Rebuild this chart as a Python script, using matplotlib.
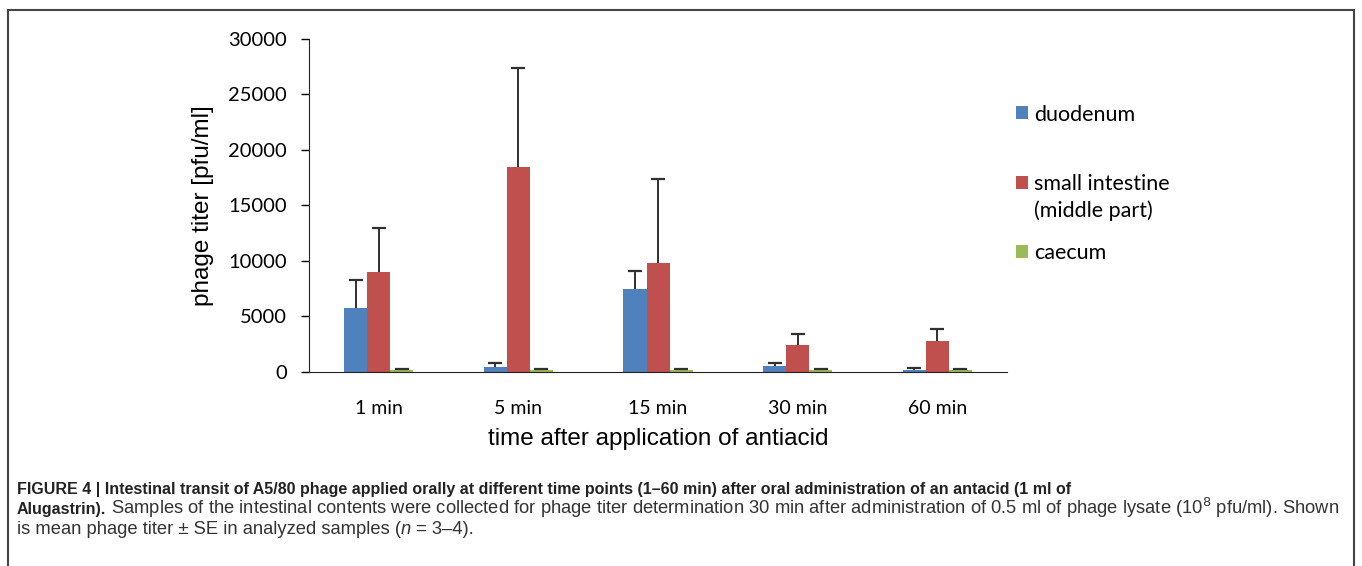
import numpy as np
import matplotlib
matplotlib.use("Agg")
import matplotlib.pyplot as plt
from matplotlib.patches import Rectangle

# values (mean phage titer, pfu/ml, and upper SE)
times = ["1 min", "5 min", "15 min", "30 min", "60 min"]
duodenum = [5800, 450, 7450, 500, 200]
duodenum_se = [2500, 400, 1650, 350, 150]
small_int = [9050, 18450, 9850, 2450, 2800]
small_int_se = [3900, 8950, 7500, 950, 1050]
caecum = [200, 150, 200, 150, 150]
caecum_se = [100, 80, 100, 80, 80]

series_names = ["duodenum", "small intestine", "caecum"]
colors = ["#4F81BD", "#C0504D", "#9BBB59"]

fig = plt.figure(figsize=(13.62, 5.66), dpi=100)
ax = fig.add_axes([0.2269, 0.3428, 0.5125, 0.5883])

x = np.arange(len(times))
w = 0.165
bars = []
for i, (vals, se) in enumerate([(duodenum, duodenum_se),
                                (small_int, small_int_se),
                                (caecum, caecum_se)]):
    xi = x + (i - 1) * w
    vals = np.array(vals)
    se = np.array(se)
    bars.append(ax.bar(xi, vals, width=w, color=colors[i],
                       label=series_names[i], zorder=2))
    # upper error bar only: stem + top cap
    ax.vlines(xi, vals, vals + se, color="#303030", linewidth=1.4, zorder=3)
    ax.plot(xi, vals + se, linestyle="none", marker="_", markersize=10,
            markeredgewidth=1.6, color="#303030", zorder=3)

ax.set_xlim(-0.5, len(times) - 0.5)
ax.set_ylim(0, 30000)
ax.set_yticks(np.arange(0, 30001, 5000))
ax.set_xticks(x)
ax.set_xticklabels(times, fontsize=14, family="Lato")
for lab in ax.get_yticklabels():
    lab.set_fontsize(14.5)
    lab.set_family("Lato")
ax.tick_params(axis="x", length=0, pad=20)
ax.tick_params(axis="y", length=6, width=1, pad=10)
for s in ["top", "right"]:
    ax.spines[s].set_visible(False)
ax.spines["left"].set_color("#222222")
ax.spines["bottom"].set_color("#222222")

ax.set_ylabel("phage titer [pfu/ml]", fontsize=17.5, family="Liberation Sans",
              labelpad=10)
ax.set_xlabel("time after application of antiacid", fontsize=17.5,
              family="Liberation Sans", labelpad=8)

# legend in pieces to mimic the uneven spacing of the original
leg_kw = dict(loc="upper left", frameon=False,
              prop={"family": "Lato", "size": 15.5}, handlelength=0.55,
              handleheight=0.55, handletextpad=0.3, borderpad=0,
              borderaxespad=0)
blank = Rectangle((0, 0), 1, 1, visible=False)
leg1 = ax.legend([bars[0]], [series_names[0]], bbox_to_anchor=(1.013, 0.803),
                 **leg_kw)
ax.add_artist(leg1)
leg2 = ax.legend([bars[1], blank], [series_names[1], "(middle part)"],
                 bbox_to_anchor=(1.013, 0.594), labelspacing=0.28, **leg_kw)
ax.add_artist(leg2)
ax.legend([bars[2]], [series_names[2]], bbox_to_anchor=(1.013, 0.386), **leg_kw)

# caption
cap_kw = dict(family="Liberation Sans", color="#333333", fontsize=13.2)
bold_kw = dict(family="Liberation Sans", color="#222222", fontsize=11.5,
               fontweight="bold")
fig.text(0.0125, 0.127, "FIGURE 4 | Intestinal transit of A5/80 phage applied orally at "
         "different time points (1\u201360 min) after oral administration of an antacid (1 ml of",
         **bold_kw)

fig.canvas.draw()
renderer = fig.canvas.get_renderer()


def after(t):
    # x position (figure fraction) right after text t
    return t.get_window_extent(renderer).x1 / fig.bbox.width


t1 = fig.text(0.0125, 0.092, "Alugastrin).", **bold_kw)
fig.text(after(t1), 0.092, " Samples of the intestinal contents were collected for "
         "phage titer determination 30 min after administration of 0.5 ml of phage "
         "lysate (10$^{8}$ pfu/ml). Shown", **cap_kw)
t2 = fig.text(0.0125, 0.057, "is mean phage titer \u00b1 SE in analyzed samples (",
              **cap_kw)
t3 = fig.text(after(t2), 0.057, "n", style="italic", **cap_kw)
fig.text(after(t3), 0.057, " = 3\u20134).", **cap_kw)

# outer frame
fig.add_artist(Rectangle((0.006, -0.01), 0.988, 0.992, transform=fig.transFigure,
                         fill=False, edgecolor="#444444", linewidth=1.5))

fig.savefig("out.png", dpi=100)
